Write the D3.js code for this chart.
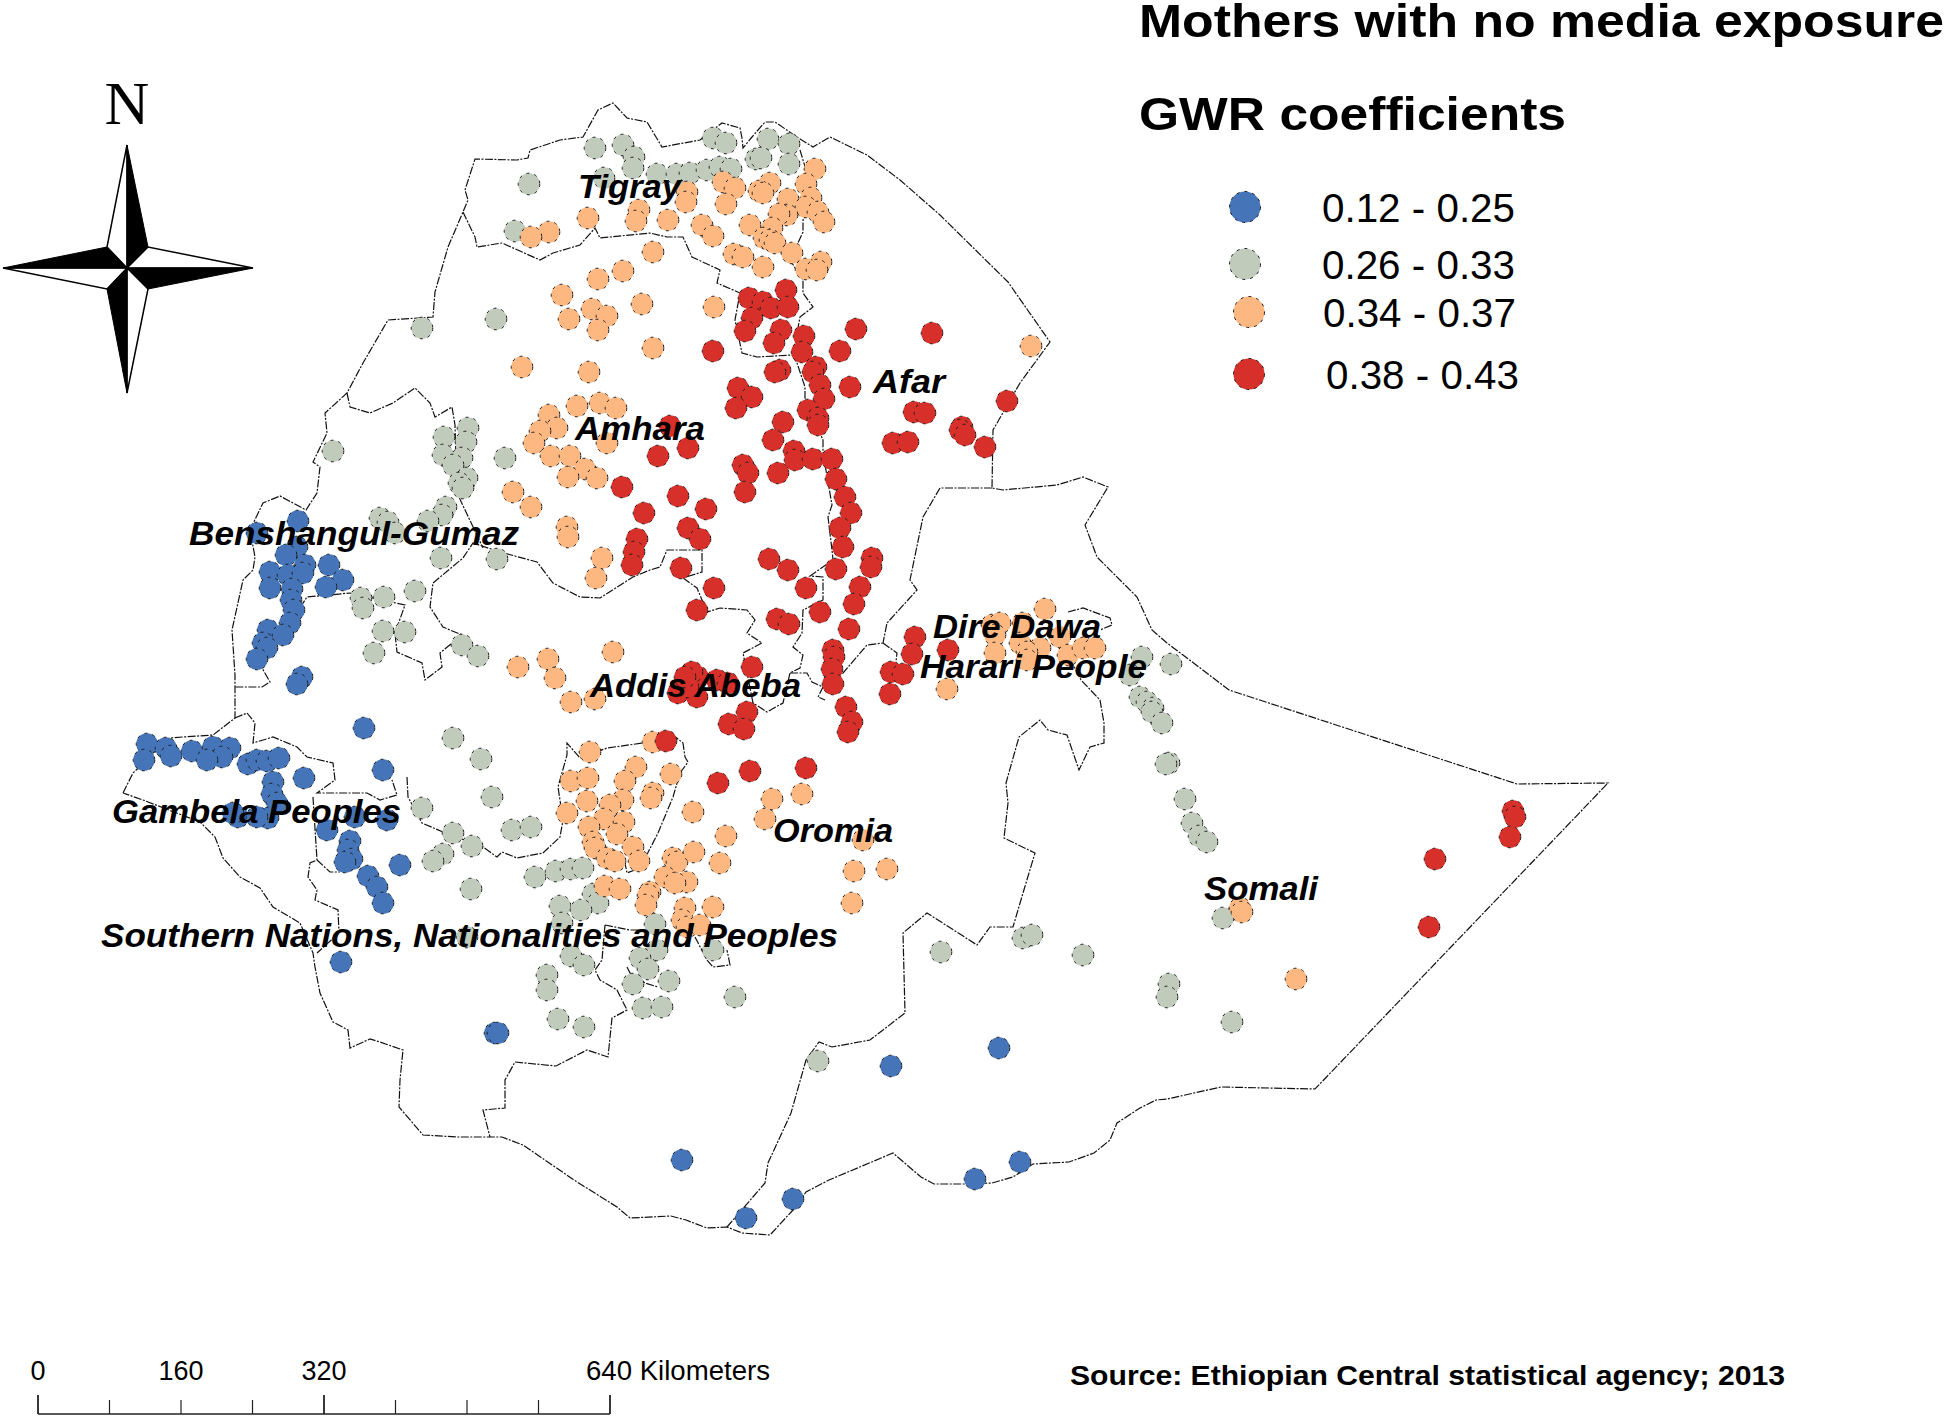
<!DOCTYPE html>
<html>
<head>
<meta charset="utf-8">
<script src="https://cdn.jsdelivr.net/npm/d3@7"></script>
<style>
  html, body { margin: 0; padding: 0; background: #fff; }
  svg { display: block; }
  text { font-family: "Liberation Sans", Arial, sans-serif; fill: #000; }
</style>
</head>
<body>
<svg id="map"></svg>
<script>
const bluePoints = [[298,521],[257,533],[297,547],[286,555],[305,565],[329,565],[343,580],[326,587],[270,572],[288,575],[303,573],[270,588],[292,589],[291,600],[294,610],[290,623],[268,630],[283,635],[263,643],[267,648],[257,659],[302,677],[297,684],[364,728],[383,770],[147,744],[144,760],[166,748],[171,756],[192,751],[213,747],[230,748],[222,757],[207,760],[248,764],[257,760],[267,761],[279,758],[304,778],[273,782],[272,794],[277,803],[238,817],[233,813],[268,818],[257,817],[327,830],[355,817],[387,820],[350,841],[348,850],[352,859],[345,862],[400,865],[368,876],[377,887],[383,903],[341,962],[495,1033],[498,1033],[891,1066],[999,1048],[682,1160],[746,1218],[793,1199],[975,1179],[1020,1162]];
const greyPoints = [[595,148],[623,145],[634,157],[633,168],[604,178],[657,174],[677,174],[690,173],[707,170],[720,167],[731,169],[713,138],[726,143],[768,139],[789,144],[756,159],[761,158],[789,164],[529,184],[515,231],[496,319],[422,328],[468,428],[444,437],[466,442],[443,455],[462,458],[453,465],[467,478],[459,483],[463,488],[333,451],[505,458],[446,507],[442,515],[428,521],[380,518],[388,522],[395,533],[441,558],[497,559],[415,591],[384,597],[361,598],[363,608],[383,631],[405,632],[374,653],[462,645],[478,656],[453,738],[481,759],[492,797],[422,808],[512,830],[531,827],[453,833],[472,846],[443,854],[433,861],[535,877],[556,871],[571,869],[583,868],[471,889],[593,894],[598,903],[560,906],[581,910],[562,923],[467,937],[655,924],[571,956],[584,965],[713,950],[657,950],[640,958],[648,969],[547,975],[547,990],[669,981],[633,984],[735,997],[643,1008],[662,1007],[558,1019],[584,1027],[941,952],[1023,938],[1032,935],[818,1061],[1083,955],[1169,984],[1167,997],[1232,1022],[1223,918],[1142,657],[1171,664],[1130,675],[1140,697],[1147,702],[1153,708],[1152,712],[1162,723],[1169,763],[1166,764],[1185,799],[1192,823],[1199,836],[1207,842]];
const orangePoints = [[815,169],[723,182],[735,188],[770,183],[759,191],[763,193],[806,184],[687,192],[686,202],[811,198],[788,199],[726,204],[806,207],[818,212],[668,220],[787,215],[779,214],[702,225],[824,222],[750,225],[772,228],[713,236],[764,238],[770,240],[775,243],[792,253],[734,254],[743,257],[763,267],[821,262],[806,269],[817,270],[653,252],[714,307],[653,348],[1031,346],[639,210],[636,221],[588,218],[549,232],[531,237],[623,271],[598,279],[562,295],[592,309],[607,316],[569,319],[598,330],[642,304],[522,367],[589,372],[577,406],[600,403],[616,408],[549,415],[557,428],[540,431],[534,443],[607,443],[551,456],[570,456],[585,469],[568,477],[597,478],[513,492],[531,507],[567,527],[568,537],[602,558],[596,578],[518,667],[548,659],[613,652],[555,678],[571,702],[595,699],[590,752],[653,742],[636,767],[571,781],[588,778],[671,774],[625,781],[653,793],[651,798],[587,801],[623,800],[610,805],[567,813],[604,819],[624,822],[589,827],[617,834],[593,842],[595,848],[633,847],[607,858],[615,861],[639,861],[673,858],[677,862],[694,852],[720,863],[693,812],[726,836],[772,799],[802,794],[765,819],[863,840],[854,871],[887,869],[852,903],[665,877],[687,882],[675,883],[605,886],[620,889],[650,892],[648,895],[646,905],[685,908],[713,907],[682,920],[687,927],[700,925],[947,689],[1045,609],[992,625],[1000,623],[1023,623],[995,635],[1020,643],[1060,637],[1040,648],[1027,652],[995,653],[1068,655],[1083,648],[1095,648],[1027,660],[1240,908],[1242,912],[1296,979]];
const redPoints = [[786,290],[749,298],[763,302],[771,308],[788,307],[752,318],[745,331],[781,330],[804,336],[856,329],[932,333],[774,343],[713,351],[802,352],[840,351],[780,370],[775,372],[816,367],[813,372],[820,385],[850,387],[738,388],[752,397],[824,399],[736,408],[1007,401],[914,412],[925,413],[808,410],[818,418],[818,425],[783,422],[670,426],[962,427],[960,430],[965,435],[773,440],[893,443],[908,442],[688,448],[985,447],[658,456],[794,451],[795,460],[813,459],[832,459],[743,465],[748,473],[778,473],[836,479],[622,487],[745,492],[678,496],[845,497],[706,509],[851,513],[644,513],[840,528],[688,528],[700,539],[637,539],[843,547],[634,552],[769,559],[788,570],[872,558],[871,567],[836,569],[632,565],[681,568],[714,588],[806,588],[860,587],[697,610],[854,604],[820,612],[777,619],[789,624],[849,629],[833,650],[834,657],[832,669],[833,684],[752,667],[915,637],[912,654],[948,650],[891,672],[903,674],[890,694],[846,707],[852,722],[848,732],[747,712],[729,724],[744,729],[666,741],[750,771],[806,768],[718,783],[690,680],[698,677],[683,690],[678,693],[697,697],[717,680],[728,683],[688,687],[692,672],[685,677],[1513,811],[1515,817],[1510,837],[1435,859],[1429,927]];

const classLabels = ['0.12 - 0.25', '0.26 - 0.33', '0.34 - 0.37', '0.38 - 0.43'];
const classColors = ['#4575b8', '#c0cbbc', '#fdb882', '#d7302a'];
const classPoints = [bluePoints, greyPoints, orangePoints, redPoints];
const legendAnchors = [[1245,207,1322,222], [1245,264,1322,279], [1249,312,1323,327], [1249,374,1326,389]];

// country outline, clockwise from the Gambela tip
const outerBorder = [[123,793],[133,773],[170,738],[183,737],[213,735],[235,718],[235,675],[232,630],[243,580],[253,570],[255,557],[250,530],[263,503],[280,496],[293,503],[306,510],[317,493],[320,467],[313,462],[327,433],[325,413],[347,393],[363,363],[388,320],[433,317],[435,292],[448,247],[463,212],[468,200],[465,190],[475,159],[517,160],[528,158],[530,150],[560,140],[583,137],[598,110],[613,103],[627,118],[647,122],[662,147],[700,140],[722,123],[740,128],[742,138],[743,148],[752,137],[765,122],[775,122],[797,137],[813,147],[830,137],[867,155],[900,180],[940,215],[1008,282],[1050,342],[1020,383],[993,430],[992,488],[1003,490],[1057,485],[1083,477],[1108,487],[1085,525],[1097,557],[1137,597],[1152,630],[1167,643],[1187,658],[1229,690],[1517,784],[1608,783],[1315,1089],[1221,1087],[1167,1099],[1156,1100],[1140,1108],[1117,1123],[1110,1140],[1094,1153],[1069,1162],[1033,1164],[1013,1177],[992,1183],[967,1184],[934,1184],[921,1177],[893,1153],[829,1180],[806,1192],[793,1210],[770,1235],[742,1233],[727,1227],[707,1228],[686,1220],[671,1216],[630,1218],[617,1207],[574,1180],[523,1145],[502,1137],[457,1137],[423,1135],[399,1107],[400,1080],[403,1050],[380,1042],[370,1039],[350,1048],[348,1030],[333,1022],[320,993],[315,967],[313,953],[300,923],[273,907],[260,888],[240,877],[223,858],[215,837],[200,822],[143,800],[123,793]];

// regional boundaries
const regionBorders = [
  [[463,212],[475,237],[477,247],[502,243],[540,260],[553,253],[580,245],[595,228],[600,238],[650,233],[667,237],[683,237],[692,257],[720,270],[717,283],[740,293],[735,320],[742,353],[757,357],[792,355],[797,363],[805,387],[805,398],[823,440],[823,453],[832,505],[828,517],[832,550],[833,560],[810,576],[823,577],[823,600],[803,610],[802,633],[793,647],[803,655],[800,668],[790,673],[783,703],[767,712],[753,703],[743,653],[762,643],[747,633],[755,620],[747,610],[720,608],[707,612],[697,588],[683,578],[702,572],[702,550],[667,550],[660,567],[650,570],[633,577],[600,598],[580,597],[553,583],[537,562],[500,552],[473,543],[463,558],[433,583],[430,607],[443,627],[462,635],[440,653],[442,667],[425,680],[422,663],[397,652],[395,633],[405,605],[350,593],[307,597],[290,623],[257,659],[270,682],[262,687],[235,687]],
  [[800,150],[815,200],[803,220],[803,232],[790,260],[803,280],[803,293],[813,307],[800,317],[797,333]],
  [[347,393],[350,407],[370,413],[393,403],[415,388],[430,403],[435,417],[452,407],[455,425],[457,493],[483,548]],
  [[235,718],[247,713],[255,723],[253,743],[273,737],[297,747],[307,757],[333,763],[335,780],[317,793],[367,793],[380,800],[397,795],[392,780]],
  [[313,797],[317,860],[310,863],[308,877],[317,890],[315,900],[338,910],[339,933],[317,953]],
  [[317,860],[330,872],[340,872]],
  [[407,777],[408,797],[422,823],[443,832],[483,847],[497,857],[502,852],[517,858],[543,853],[560,837],[563,820],[558,787],[567,755],[567,743],[580,758],[607,748],[643,743],[673,735],[683,743],[685,757],[688,762],[680,773],[673,797],[658,833],[640,868],[627,873],[625,863]],
  [[605,925],[630,930],[645,930]],
  [[605,925],[602,960],[595,970],[600,980],[617,990],[627,1010],[612,1018],[608,1057],[587,1050],[556,1066],[515,1062],[505,1080],[505,1108],[483,1110],[490,1137]],
  [[695,937],[707,960],[713,967],[730,965],[727,950]],
  [[627,967],[630,973],[645,983],[658,987]],
  [[727,1227],[765,1183],[768,1163],[791,1113],[806,1060],[819,1042],[832,1047],[870,1040],[905,1013],[903,933],[927,913],[977,945],[990,927],[1013,927],[1023,893],[1035,853],[1004,838],[1008,803],[1006,783],[1019,737],[1040,720],[1048,730],[1067,735],[1079,770],[1090,747],[1104,743],[1104,723],[1100,700],[1081,680],[1068,655]],
  [[992,488],[940,488],[923,517],[910,580],[917,590],[887,623],[883,643],[867,645],[843,673],[823,687]],
  [[790,673],[807,673],[812,682],[823,687],[818,697],[825,700]],
  [[883,643],[897,653],[895,670]],
  [[1068,612],[1083,608],[1110,618],[1112,625],[1100,630]]
];

const regionNames = ['Tigray', 'Afar', 'Amhara', 'Benshangul-Gumaz', 'Dire Dawa', 'Harari People', 'Addis Abeba', 'Oromia', 'Gambela Peoples', 'Southern Nations, Nationalities and Peoples', 'Somali'];
const regionNameSpots = [[578,198], [873,393], [575,440], [189,545], [933,638], [920,678], [590,697], [773,842], [112,823], [101,947], [1204,900]];
const regionNameWidths = [103, 72, 130, 330, 168, 227, 211, 120, 289, 737, 114];

const compassTips = { center: [127,268], n: [127,145], s: [127,393], w: [3,268], e: [253,268] };
const compassWaist = { nw: [107,247], ne: [148,247], sw: [107,289], se: [148,289] };

const scaleKm = [0, 80, 160, 240, 320, 400, 480, 560, 640];
const scaleLabelled = [0, 160, 320];

const width = 1946, height = 1417;

const x = d3.scaleLinear().domain([0, 1946]).range([0, width]);
const y = d3.scaleLinear().domain([0, 1417]).range([0, height]);
const km = d3.scaleLinear().domain([0, 640]).range([38, 610]);

const svg = d3.select('#map')
  .attr('width', width)
  .attr('height', height);

const line = d3.line().x(d => x(d[0])).y(d => y(d[1]));

svg.append('g').selectAll('path')
  .data([outerBorder].concat(regionBorders))
  .enter()
  .append('path')
  .attr('d', line)
  .attr('fill', 'none')
  .attr('stroke', '#111')
  .attr('stroke-width', 1.2)
  .attr('stroke-dasharray', '8 1.5 2 1.5');

// one group per coefficient class
classPoints.forEach((points, i) => {
  svg.append('g').selectAll('circle')
    .data(points)
    .enter()
    .append('circle')
    .attr('cx', d => x(d[0]))
    .attr('cy', d => y(d[1]))
    .attr('r', 10.8)
    .attr('fill', classColors[i])
    .attr('stroke', '#1c1c1c')
    .attr('stroke-width', 1)
    .attr('stroke-dasharray', '3 5');
});

svg.append('g').selectAll('text')
  .data(regionNames)
  .enter()
  .append('text')
  .attr('x', (d, i) => x(regionNameSpots[i][0]))
  .attr('y', (d, i) => y(regionNameSpots[i][1]))
  .attr('textLength', (d, i) => regionNameWidths[i])
  .attr('lengthAdjust', 'spacingAndGlyphs')
  .style('font-size', '33px')
  .style('font-weight', 'bold')
  .style('font-style', 'italic')
  .text(d => d);

// title
svg.append('text')
  .attr('x', 1139).attr('y', 37)
  .attr('textLength', 805).attr('lengthAdjust', 'spacingAndGlyphs')
  .style('font-size', '47px').style('font-weight', 'bold')
  .text('Mothers with no media exposure');
svg.append('text')
  .attr('x', 1139).attr('y', 130)
  .attr('textLength', 427).attr('lengthAdjust', 'spacingAndGlyphs')
  .style('font-size', '47px').style('font-weight', 'bold')
  .text('GWR coefficients');

// legend
const legend = svg.append('g').selectAll('g')
  .data(classLabels)
  .enter()
  .append('g');
legend.append('circle')
  .attr('cx', (d, i) => legendAnchors[i][0])
  .attr('cy', (d, i) => legendAnchors[i][1])
  .attr('r', 15.5)
  .attr('fill', (d, i) => classColors[i])
  .attr('stroke', '#1c1c1c')
  .attr('stroke-width', 1)
  .attr('stroke-dasharray', '3 5');
legend.append('text')
  .attr('x', (d, i) => legendAnchors[i][2])
  .attr('y', (d, i) => legendAnchors[i][3])
  .attr('textLength', 193).attr('lengthAdjust', 'spacingAndGlyphs')
  .style('font-size', '40px')
  .text(d => d);

// north arrow
const c = compassTips, wst = compassWaist;
const compass = svg.append('g');
compass.selectAll('path.white')
  .data([
    [c.center, c.n, wst.nw], [c.center, c.e, wst.ne],
    [c.center, c.s, wst.se], [c.center, c.w, wst.sw]
  ])
  .enter()
  .append('path')
  .attr('class', 'white')
  .attr('d', d => line(d) + 'Z')
  .attr('fill', '#fff')
  .attr('stroke', '#000')
  .attr('stroke-width', 1.5);
compass.selectAll('path.black')
  .data([
    [c.center, c.n, wst.ne], [c.center, c.e, wst.se],
    [c.center, c.s, wst.sw], [c.center, c.w, wst.nw]
  ])
  .enter()
  .append('path')
  .attr('class', 'black')
  .attr('d', d => line(d) + 'Z')
  .attr('fill', '#000')
  .attr('stroke', '#000')
  .attr('stroke-width', 1);
compass.append('text')
  .attr('x', 127).attr('y', 124)
  .attr('text-anchor', 'middle')
  .style('font-family', '"Liberation Serif", serif')
  .style('font-size', '62px')
  .text('N');

// scale bar
const bar = svg.append('g');
bar.append('line')
  .attr('x1', km(0)).attr('x2', km(640))
  .attr('y1', 1414).attr('y2', 1414)
  .attr('stroke', '#222').attr('stroke-width', 1.5);
bar.selectAll('line.tick')
  .data(scaleKm)
  .enter()
  .append('line')
  .attr('class', 'tick')
  .attr('x1', d => km(d)).attr('x2', d => km(d))
  .attr('y1', d => d % 320 === 0 ? 1395 : 1400)
  .attr('y2', 1414)
  .attr('stroke', '#222')
  .attr('stroke-width', d => d % 320 === 0 ? 1.8 : 1.2);
bar.selectAll('text.lab')
  .data(scaleLabelled)
  .enter()
  .append('text')
  .attr('class', 'lab')
  .attr('x', d => km(d))
  .attr('y', 1380)
  .attr('text-anchor', 'middle')
  .style('font-size', '27px')
  .text(d => d);
bar.append('text')
  .attr('x', 586).attr('y', 1380)
  .attr('textLength', 184).attr('lengthAdjust', 'spacingAndGlyphs')
  .style('font-size', '27px')
  .text('640 Kilometers');

svg.append('text')
  .attr('x', 1070).attr('y', 1385)
  .attr('textLength', 715).attr('lengthAdjust', 'spacingAndGlyphs')
  .style('font-size', '27px').style('font-weight', 'bold')
  .text('Source: Ethiopian Central statistical agency; 2013');
</script>
</body>
</html>
